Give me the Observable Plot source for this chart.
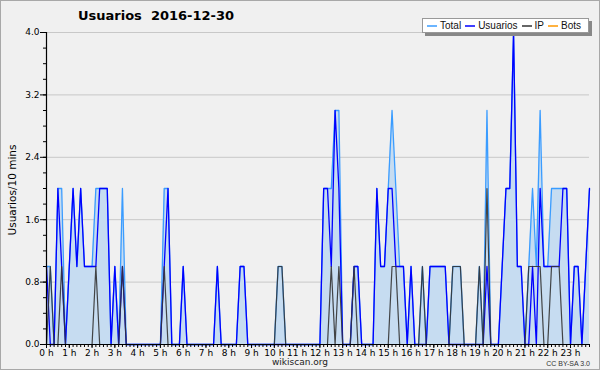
<!DOCTYPE html>
<html><head><meta charset="utf-8">
<script src="https://cdn.jsdelivr.net/npm/d3@7"></script>
<script src="https://cdn.jsdelivr.net/npm/@observablehq/plot@0.6"></script>
<style>
body{margin:0;background:#f0f0f0;}
#wrap{position:relative;width:600px;height:370px;background:#f0f0f0;overflow:hidden;font-family:"DejaVu Sans",sans-serif;}
#wrap > svg{position:absolute;left:0;top:0;}
#border{position:absolute;left:0;top:0;width:600px;height:370px;box-sizing:border-box;border:1px solid #a8a8a8;pointer-events:none;}
#title{position:absolute;left:78px;top:8px;font-weight:bold;font-size:13px;color:#000;white-space:pre;}
#ylab{position:absolute;left:12px;top:190px;transform:translate(-50%,-50%) rotate(-90deg);font-size:10.5px;white-space:nowrap;color:#000;}
#src{position:absolute;left:300px;top:362px;transform:translate(-50%,-50%);font-size:9px;color:#222;}
#cc{position:absolute;right:10px;top:363px;transform:translateY(-50%);font-size:7px;color:#333;font-family:"Liberation Sans",sans-serif;}
#legend{position:absolute;left:422px;top:18px;width:167px;height:15px;box-sizing:border-box;background:#fff;border:1px solid #999;box-shadow:3px 3px 0 #888;font-size:10px;font-family:"Liberation Sans",sans-serif;display:flex;align-items:center;padding-left:4px;white-space:nowrap;color:#111;overflow:hidden;}
#legend span.it{display:flex;align-items:center;margin-right:4px;}
#legend svg{display:block;margin-right:3px;}
</style></head><body>
<div id="wrap">
  <div id="title"></div>
  <div id="ylab"></div>
  <div id="src"></div>
  <div id="cc"></div>
  <div id="legend"></div>
  <div id="border"></div>
</div>
<script>
const titleText = "Usuarios  2016-12-30";
const yLabel = "Usuarios/10 mins";
const sourceText = "wikiscan.org";
const licenseText = "CC BY-SA 3.0";
const seriesNames = ["Total", "Usuarios", "IP", "Bots"];
const seriesColors = ["#3a9cff", "#0000ff", "#333333", "#ff9900"];
const hourLabels = ["0 h","1 h","2 h","3 h","4 h","5 h","6 h","7 h","8 h","9 h","10 h","11 h","12 h","13 h","14 h","15 h","16 h","17 h","18 h","19 h","20 h","21 h","22 h","23 h"];
const yTicks = [0, 0.8, 1.6, 2.4, 3.2, 4.0];

// one value per 10 minutes (144 slots)
const usuarios = [
 1,0,0,2,1,0, 1,2,1,2,1,1, 1,1,2,2,2,0, 1,0,1,0,0,0,
 0,0,0,0,0,0, 0,1,2,0,0,0, 1,0,0,0,0,0, 0,0,0,1,0,0,
 0,0,0,1,1,0, 0,0,0,0,0,0, 0,0,0,0,0,0, 0,0,0,0,0,0,
 0,2,2,1,3,2, 0,0,0,1,1,0, 0,0,0,2,1,1, 2,2,1,1,1,0,
 1,0,0,0,0,1, 1,1,1,1,0,0, 0,0,0,0,0,0, 0,0,1,0,0,0,
 1,2,2,4,1,1, 0,0,1,0,2,1, 1,1,1,1,2,2, 0,1,1,0,1,2
];
const ip = [
 0,1,0,0,1,0, 0,0,0,0,0,0, 0,1,0,0,0,0, 0,0,1,0,0,0,
 0,0,0,0,0,0, 0,1,0,0,0,0, 0,0,0,0,0,0, 0,0,0,0,0,0,
 0,0,0,0,0,0, 0,0,0,0,0,0, 0,1,1,0,0,0, 0,0,0,0,0,0,
 0,0,0,1,0,1, 0,0,0,1,0,0, 0,0,0,0,0,0, 0,1,1,0,0,0,
 0,0,0,1,0,0, 0,0,0,0,0,1, 1,1,0,0,0,0, 1,0,2,0,0,0,
 0,0,0,0,0,0, 0,1,1,1,1,0, 0,1,1,1,0,0, 0,0,0,0,0,0
];
const total = [
 1,1,0,2,2,0, 1,2,1,2,1,1, 1,2,2,2,2,0, 1,0,2,0,0,0,
 0,0,0,0,0,0, 0,2,2,0,0,0, 1,0,0,0,0,0, 0,0,0,1,0,0,
 0,0,0,1,1,0, 0,0,0,0,0,0, 0,1,1,0,0,0, 0,0,0,0,0,0,
 0,2,2,2,3,3, 0,0,0,1,1,0, 0,0,0,2,1,1, 2,3,2,1,1,0,
 1,0,0,1,0,1, 1,1,1,1,0,1, 1,1,0,0,0,0, 1,0,3,0,0,0,
 1,2,2,4,1,1, 0,1,2,1,3,1, 1,2,2,2,2,2, 0,1,1,0,1,2
];
const bots = [
 0,0,0,0,0,0, 0,0,0,0,0,0, 0,0,0,0,0,0, 0,0,0,0,0,0,
 0,0,0,0,0,0, 0,0,0,0,0,0, 0,0,0,0,0,0, 0,0,0,0,0,0,
 0,0,0,0,0,0, 0,0,0,0,0,0, 0,0,0,0,0,0, 0,0,0,0,0,0,
 0,0,0,0,0,0, 0,0,0,0,0,0, 0,0,0,0,0,0, 0,0,0,0,0,0,
 0,0,0,0,0,0, 0,0,0,0,0,0, 0,0,0,0,0,0, 0,0,0,0,0,0,
 0,0,0,0,0,0, 0,0,0,0,0,0, 0,0,0,0,0,0, 0,0,0,0,0,0
];

const data = total.map((t, i) => ({i, total: t, usuarios: usuarios[i], ip: ip[i], bots: bots[i]}));
const hourTicks = hourLabels.map((_, h) => h * 6);
const minorX = data.map(d => d.i);
const minorY = d3.range(0, 21).map(k => k / 5);

const font = '"DejaVu Sans",sans-serif';
const chart = Plot.plot({
  width: 600, height: 370,
  marginLeft: 46, marginRight: 11, marginTop: 32, marginBottom: 26,
  style: {background: "transparent", fontFamily: font, fontSize: "9px", color: "#000", overflow: "visible"},
  x: {domain: [0, 143], axis: null},
  y: {domain: [0, 4], axis: null},
  marks: [
    Plot.gridY(yTicks.slice(1), {stroke: "#c8c8c8", strokeOpacity: 1}),
    Plot.areaY(data, {x: "i", y: "total", fill: "#c6dcf1", fillOpacity: 1, curve: "linear"}),
    Plot.lineY(data, {x: "i", y: "bots", stroke: seriesColors[3], strokeWidth: 1.2}),
    Plot.lineY(data, {x: "i", y: "total", stroke: seriesColors[0], strokeWidth: 1.3}),
    Plot.lineY(data, {x: "i", y: "usuarios", stroke: seriesColors[1], strokeWidth: 1.3}),
    Plot.lineY(data, {x: "i", y: "ip", stroke: seriesColors[2], strokeWidth: 1.2, strokeOpacity: 0.9}),
    Plot.axisY({ticks: minorY, tickSize: 3, tickFormat: () => "", stroke: "#000", label: null}),
    Plot.axisY({ticks: yTicks, tickSize: 6, tickPadding: 1, tickFormat: d => d.toFixed(1), fontSize: 9, stroke: "#000", label: null}),
    Plot.axisX({ticks: minorX, tickSize: 3, tickFormat: () => "", stroke: "#000", label: null}),
    Plot.axisX({ticks: hourTicks, tickSize: 4, tickPadding: 1, tickFormat: i => hourLabels[i / 6], fontSize: 9, stroke: "#000", label: null}),
    Plot.ruleX([0], {stroke: "#000", strokeWidth: 1.2}),
    Plot.ruleY([0], {stroke: "#000", strokeWidth: 1.2})
  ]
});
const wrap = document.getElementById("wrap");
wrap.insertBefore(chart, wrap.firstChild);

document.getElementById("title").textContent = titleText;
document.getElementById("ylab").textContent = yLabel;
document.getElementById("src").textContent = sourceText;
document.getElementById("cc").textContent = licenseText;
const leg = d3.select("#legend");
seriesNames.forEach((n, k) => {
  const it = leg.append("span").attr("class", "it");
  const sw = it.append("svg").attr("width", 10).attr("height", 4);
  sw.append("line").attr("x1", 0).attr("x2", 10).attr("y1", 2).attr("y2", 2)
    .attr("stroke", seriesColors[k]).attr("stroke-width", 1.5);
  it.append("span").text(n);
});
</script>
</body></html>
